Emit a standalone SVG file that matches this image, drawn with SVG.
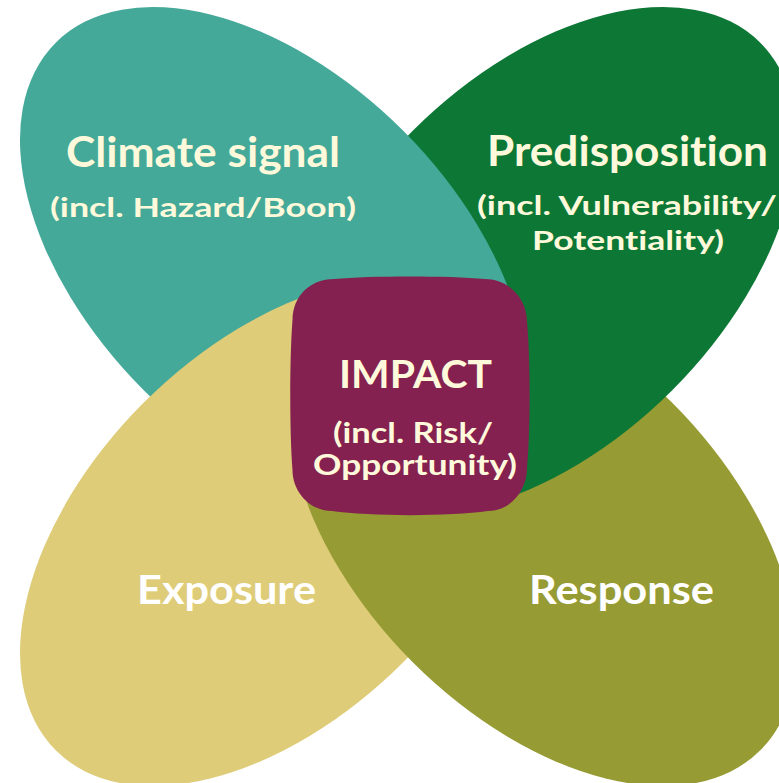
<svg xmlns="http://www.w3.org/2000/svg" width="779" height="783" viewBox="0 0 779 783">
  <style>
    .lbl { font-family: Lato, "Open Sans", "Liberation Sans", sans-serif; font-weight: bold; text-anchor: middle; font-variant-ligatures: none; font-feature-settings: "liga" 0, "clig" 0; }
    .cream { fill: #FFF9DB; }
    .white { fill: #FFFFFF; }
    .t1 { font-size: 42px; }
    .t2 { font-size: 27px; }
    .t3 { font-size: 39px; }
    .t4 { font-size: 28px; }
    .t5 { font-size: 40px; }
  </style>
  <defs>
    <ellipse id="petal-tan" cx="0" cy="0" rx="308" ry="183.5" transform="translate(273.5 532.5) rotate(-45)"/>
    <clipPath id="clip-tan-top">
      <polygon points="0,0 408,0 408,430 298,455 298,482 305,501 0,506"/>
    </clipPath>
  </defs>

  <rect x="0" y="0" width="779" height="783" fill="#FFFFFF"/>

  <g id="exposure">
    <use href="#petal-tan" fill="#DECC79"/>
    <text class="lbl white t5" x="226.5" y="604" textLength="179" lengthAdjust="spacingAndGlyphs">Exposure</text>
  </g>

  <g id="response">
    <ellipse cx="0" cy="0" rx="308" ry="183.5" transform="translate(542.5 532.5) rotate(45)" fill="#979B34"/>
    <text class="lbl white t5" x="621.5" y="604" textLength="185" lengthAdjust="spacingAndGlyphs">Response</text>
  </g>

  <g id="predisposition">
    <ellipse cx="0" cy="0" rx="308" ry="183.5" transform="translate(542.5 260.5) rotate(-45)" fill="#0D7736"/>
    <text class="lbl cream t1" x="627.5" y="166" textLength="281" lengthAdjust="spacingAndGlyphs">Predisposition</text>
    <text class="lbl cream t2" x="627" y="215" textLength="300" lengthAdjust="spacingAndGlyphs">(incl. Vulnerability/</text>
    <text class="lbl cream t2" x="628" y="250" textLength="192" lengthAdjust="spacingAndGlyphs">Potentiality)</text>
  </g>

  <g id="climate-signal">
    <ellipse cx="0" cy="0" rx="308" ry="183.5" transform="translate(273.5 260.5) rotate(45)" fill="#45A999"/>
    <text class="lbl cream t1" x="203" y="167" textLength="274" lengthAdjust="spacingAndGlyphs">Climate signal</text>
    <text class="lbl cream t2" x="203" y="217" textLength="306" lengthAdjust="spacingAndGlyphs">(incl. Hazard/Boon)</text>
  </g>

  <g id="exposure-overlap">
    <use href="#petal-tan" fill="#DECC79" clip-path="url(#clip-tan-top)"/>
  </g>

  <g id="impact">
    <path fill="#852150" d="M 292.5,320 C 292.5,296.3 310.3,279 334,279 C 370,275.7 449,275.7 485,279 C 508.7,279 527,298.3 527,322 C 530.5,360 530.5,430 527,468 C 527,491 510,511 488,511 C 450,516.5 370,516.5 332,511 C 310,511 292.5,492 292.5,470 C 289.5,432 289.5,358 292.5,320 Z"/>
    <text class="lbl cream t3" x="415.5" y="388" textLength="153" lengthAdjust="spacingAndGlyphs">IMPACT</text>
    <text class="lbl cream t4" x="413" y="443" textLength="160" lengthAdjust="spacingAndGlyphs">(incl. Risk/</text>
    <text class="lbl cream t4" x="415" y="475" textLength="204" lengthAdjust="spacingAndGlyphs">Opportunity)</text>
  </g>
</svg>
